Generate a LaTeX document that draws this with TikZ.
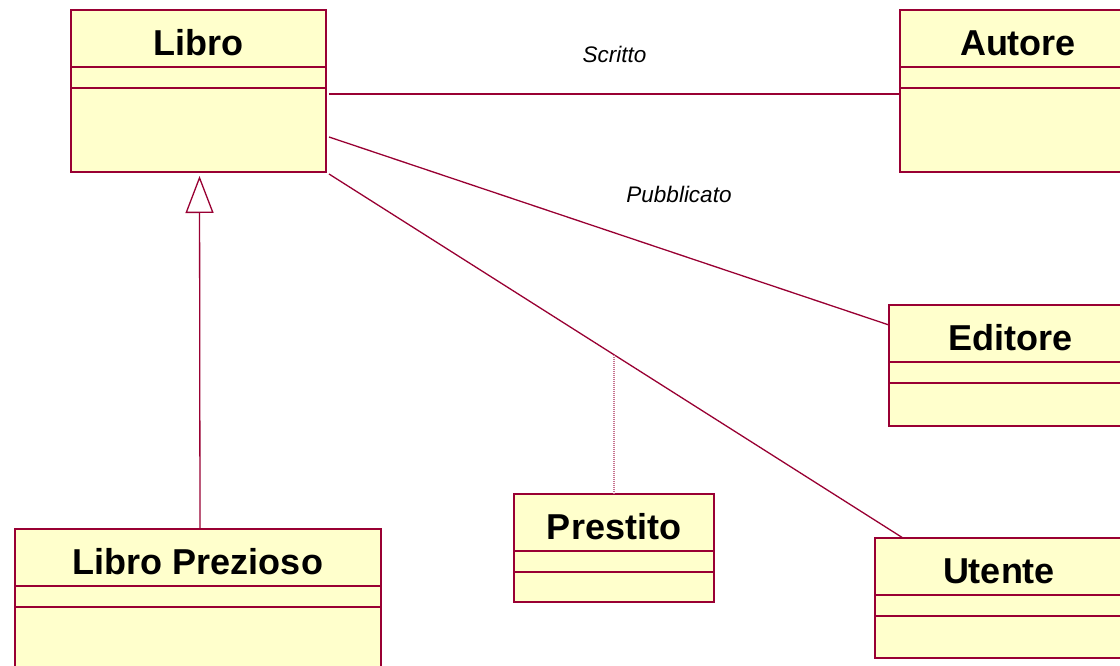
\documentclass[tikz,border=0pt]{standalone}
\usepackage{fontspec}
\setmainfont{Liberation Sans}
\usetikzlibrary{arrows.meta}

\definecolor{umlline}{RGB}{153,0,51}
\definecolor{umlfill}{RGB}{255,255,204}

\tikzset{
  classbox/.style={draw=umlline, fill=umlfill, line width=1.6pt, inner sep=0pt, outer sep=0pt, rectangle},
  classsep/.style={draw=umlline, line width=1.4pt},
  classtitle/.style={inner sep=0pt, font=\bfseries\fontsize{36}{40}\selectfont},
  assoc/.style={draw=umlline, line width=1.3pt},
  assoclabel/.style={inner sep=0pt, anchor=base, font=\itshape\fontsize{22.5}{26}\selectfont},
  linkdots/.style={draw=umlline!55, line width=1.3pt, dash pattern=on 1pt off 1pt},
  generalization/.style={assoc, -{Triangle[open, length=37pt, width=28pt, line width=1.3pt]}, shorten >=4pt},
}

% a class box: name, left, top, width, height, title
\newcommand{\umlclass}[6]{%
  \node[classbox, anchor=north west, minimum width=#4pt, minimum height=#5pt] (#1) at (#2,#3) {};
  \draw[classsep] ([yshift=-57pt]#1.north west) -- ([yshift=-57pt]#1.north east);
  \draw[classsep] ([yshift=-78pt]#1.north west) -- ([yshift=-78pt]#1.north east);
  \node[classtitle, anchor=base] (#1-title) at ([yshift=-45.5pt]#1.north) {#6};
}

\begin{document}
\begin{tikzpicture}[x=1pt, y=-1pt]
  \useasboundingbox (0,0) rectangle (1120,666);
  \clip (0,0) rectangle (1120,666);
  \fill[white] (0,0) rectangle (1120,666);

  \umlclass{libro}{71}{10}{255}{162}{Libro}
  \umlclass{autore}{900}{10}{236}{162}{Autore}
  \umlclass{editore}{889}{305}{242}{121}{Editore}
  \umlclass{utente}{875}{538}{248}{120}{Utente}
  \umlclass{prezioso}{15}{529}{366}{180}{Libro Prezioso}
  \umlclass{prestito}{514}{494}{200}{108}{Prestito}

  % associations
  \draw[assoc] ([shift={(3,3)}]libro.east) --
    node[assoclabel, midway, yshift=31pt] (scritto) {Scritto}
    ([shift={(0,3)}]autore.west);
  \draw[assoc] ([shift={(3,46)}]libro.east) --
    node[assoclabel, pos=0.625, yshift=51.5pt] (pubblicato) {Pubblicato}
    ([shift={(0,20)}]editore.north west);
  \draw[assoc] ([shift={(3,2)}]libro.south east) --
    coordinate[pos=0.4965] (prestitolink)
    ([shift={(28,0)}]utente.north west);

  % association class link
  \draw[linkdots] (prestito.north |- prestitolink) -- (prestito.north);

  % generalization
  \draw[generalization] ([xshift=2pt]prezioso.north) -- ([xshift=1.5pt]prezioso.north |- libro.south);
\end{tikzpicture}
\end{document}
